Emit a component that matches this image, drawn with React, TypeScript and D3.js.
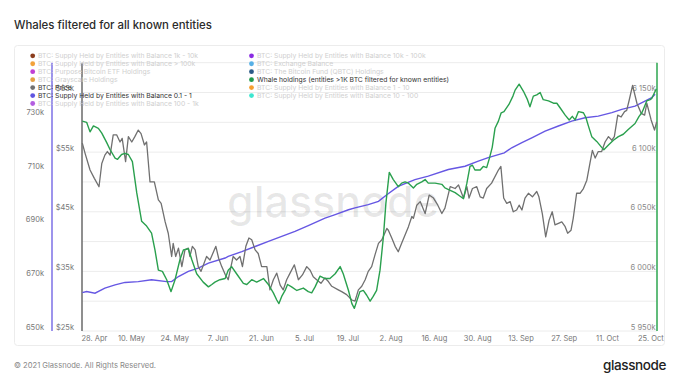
import React from 'react';
import * as d3 from 'd3';

// ---------- data ----------
const START_DATE = '2021-04-24';
const SPAN_DAYS = 186;

const xTickDates = [
  '2021-04-28', '2021-05-10', '2021-05-24', '2021-06-07', '2021-06-21', '2021-07-05', '2021-07-19',
  '2021-08-02', '2021-08-16', '2021-08-30', '2021-09-13', '2021-09-27', '2021-10-11', '2021-10-25',
];

// [days since START_DATE, thousand BTC]
const whaleHoldings: [number, number][] = [
  [0.1, 6126], [1.5, 6125], [2.6, 6117], [3.7, 6122], [5.3, 6120], [6.4, 6116], [8.0, 6108], [9.1, 6102],
  [10.7, 6095], [11.5, 6094], [12.8, 6098], [13.9, 6099], [15.0, 6098], [16.3, 6092], [17.7, 6066], [19.3, 6042],
  [20.9, 6038], [22.5, 6032], [23.6, 6018], [24.7, 6001], [26.0, 6000], [27.4, 5993], [28.8, 5983], [30.1, 5993],
  [31.7, 6010], [32.8, 6018], [34.4, 6019], [35.5, 6010], [37.1, 5998], [39.2, 5991], [40.9, 5987], [42.0, 5989],
  [43.0, 5991], [44.6, 5993], [46.3, 5994], [47.3, 6001], [48.4, 6004], [50.0, 5998], [52.2, 5990], [53.3, 5989],
  [54.9, 5993], [56.5, 5991], [58.7, 5994], [60.3, 5989], [61.9, 5982], [63.0, 5976], [63.7, 5973], [64.6, 5979],
  [65.7, 5984], [66.5, 5989], [67.8, 5987], [69.5, 5984], [71.6, 5986], [73.2, 5983], [74.3, 5982], [75.4, 5987],
  [77.0, 5996], [78.6, 5994], [80.2, 5994], [81.9, 5998], [83.5, 6004], [84.5, 5998], [86.2, 5984], [87.3, 5973],
  [88.1, 5969], [89.9, 5983], [91.0, 5984], [92.1, 5980], [93.2, 5975], [94.2, 5979], [95.3, 5984], [96.4, 6001],
  [97.5, 6029], [98.3, 6057], [99.4, 6083], [100.7, 6077], [101.8, 6073], [102.3, 6071], [103.4, 6074], [104.5, 6075],
  [105.6, 6074], [107.2, 6070], [108.3, 6073], [109.9, 6075], [111.0, 6077], [112.0, 6074], [114.2, 6074], [116.4, 6073],
  [117.4, 6070], [119.1, 6068], [120.7, 6066], [122.3, 6063], [123.4, 6061], [124.5, 6074], [125.5, 6088], [126.3, 6089],
  [127.1, 6085], [128.8, 6085], [129.8, 6088], [130.9, 6087], [131.8, 6095], [132.7, 6104], [133.6, 6120], [134.7, 6126],
  [135.6, 6133], [136.5, 6134], [138.1, 6140], [139.4, 6147], [140.1, 6152], [141.4, 6157], [142.8, 6151], [144.1, 6144],
  [144.9, 6138], [146.0, 6147], [147.1, 6148], [148.2, 6150], [149.2, 6144], [150.9, 6143], [152.5, 6141], [153.6, 6141],
  [154.7, 6137], [156.3, 6131], [157.6, 6127], [158.6, 6130], [159.5, 6127], [160.6, 6134], [162.2, 6133], [163.0, 6129],
  [163.8, 6122], [164.9, 6113], [166.5, 6109], [168.1, 6104], [168.8, 6102], [170.3, 6106], [171.9, 6110], [173.5, 6113],
  [175.1, 6115], [176.7, 6119], [178.9, 6124], [180.2, 6130], [181.1, 6133], [181.6, 6136], [182.7, 6143], [183.8, 6144],
  [184.3, 6145], [185.2, 6150], [185.8, 6153],
];

// [days since START_DATE, thousand USD]
const btcPrice: [number, number][] = [
  [0.1, 56.5], [1.0, 54.8], [2.6, 52.0], [4.0, 50.6], [5.5, 49.2], [6.4, 53.1], [7.4, 54.5], [8.2, 55.1],
  [9.1, 54.5], [10.1, 57.9], [11.2, 57.9], [12.3, 56.7], [13.0, 57.3], [14.1, 53.4], [15.0, 57.6], [16.1, 56.7],
  [17.1, 57.6], [18.2, 58.7], [19.1, 58.1], [20.2, 56.2], [20.9, 56.7], [22.0, 50.0], [23.4, 50.0], [24.7, 47.0],
  [25.6, 46.4], [26.9, 43.3], [27.9, 41.4], [29.0, 37.5], [29.5, 39.7], [30.3, 37.5], [31.2, 38.9], [32.3, 35.8],
  [33.3, 38.6], [34.4, 38.9], [34.9, 37.5], [35.7, 39.2], [36.6, 38.6], [37.6, 35.8], [38.5, 35.0], [40.3, 37.5],
  [41.4, 36.9], [43.3, 39.2], [44.2, 37.2], [45.2, 35.8], [46.3, 34.5], [47.3, 33.6], [48.9, 37.5], [50.0, 36.9],
  [51.1, 37.5], [51.9, 35.8], [53.0, 39.2], [54.0, 40.6], [54.9, 40.3], [56.0, 38.6], [57.0, 38.0], [58.1, 35.8],
  [59.8, 35.8], [60.8, 31.9], [61.9, 33.6], [63.0, 34.7], [64.1, 32.7], [65.1, 31.9], [66.2, 33.6], [67.3, 34.7],
  [68.7, 36.1], [70.0, 33.6], [71.3, 34.4], [72.7, 35.8], [73.8, 35.2], [74.8, 34.1], [75.9, 33.6], [77.3, 33.0],
  [78.6, 33.9], [79.7, 33.3], [80.8, 32.5], [82.9, 31.9], [84.0, 31.6], [85.6, 31.1], [87.3, 30.2], [88.3, 30.0],
  [89.4, 31.9], [90.5, 32.5], [91.6, 33.6], [92.6, 35.0], [93.7, 35.8], [94.8, 37.8], [95.9, 39.7], [97.0, 40.3],
  [98.6, 42.2], [99.1, 41.9], [100.2, 40.6], [101.3, 39.2], [102.3, 38.3], [103.4, 39.7], [104.5, 41.1], [105.6, 42.5],
  [106.7, 44.2], [107.2, 43.9], [108.3, 46.1], [109.4, 46.7], [111.0, 44.7], [112.3, 47.8], [113.7, 47.3], [115.1, 46.1],
  [116.4, 44.7], [117.4, 45.6], [119.1, 49.2], [120.7, 48.9], [121.8, 49.5], [123.4, 47.3], [124.5, 49.2], [125.2, 47.3],
  [126.3, 48.9], [127.7, 49.2], [128.8, 47.5], [129.8, 47.3], [130.9, 48.9], [132.5, 49.8], [134.7, 52.0], [135.5, 52.6],
  [136.4, 47.3], [137.4, 46.4], [138.5, 46.7], [139.5, 45.0], [140.6, 45.3], [141.4, 46.1], [142.3, 45.3], [143.3, 47.3],
  [144.4, 48.1], [145.7, 47.5], [147.1, 48.4], [147.8, 47.5], [148.9, 44.7], [150.0, 40.8], [151.1, 43.6], [152.1, 45.0],
  [153.0, 42.8], [154.3, 43.1], [155.2, 43.3], [156.3, 42.5], [157.1, 41.4], [158.2, 41.9], [158.9, 43.9], [160.0, 48.1],
  [161.1, 48.1], [162.2, 48.9], [163.3, 50.3], [164.3, 53.1], [165.1, 55.3], [166.0, 54.0], [167.0, 55.1], [168.1, 55.1],
  [169.2, 56.7], [170.3, 57.6], [171.4, 57.0], [172.2, 57.6], [173.3, 61.2], [174.4, 60.9], [175.5, 61.8], [176.2, 62.0],
  [177.0, 63.7], [178.1, 66.2], [179.5, 63.2], [180.9, 61.5], [182.0, 61.2], [182.7, 63.2], [184.1, 60.4], [185.2, 58.7],
  [185.9, 60.1],
];

// [days since START_DATE, thousand BTC]
const supply01to1: [number, number][] = [
  [0.1, 664.3], [1.5, 664.7], [4.2, 664.1], [7.4, 666.0], [10.7, 667.2], [13.9, 668.1], [18.2, 668.4], [22.5, 669.1],
  [27.4, 668.4], [29.0, 668.4], [31.2, 670.3], [34.4, 672.2], [37.6, 673.4], [40.9, 675.3], [46.3, 677.2], [47.3, 677.8],
  [51.7, 679.6], [56.0, 681.5], [60.3, 683.4], [64.6, 685.3], [68.9, 687.1], [73.2, 689.3], [78.6, 692.1], [81.9, 693.4],
  [86.2, 695.2], [88.3, 695.9], [92.6, 697.1], [95.9, 698.3], [98.6, 700.8], [102.3, 703.9], [107.7, 706.4], [112.0, 707.7],
  [118.5, 710.2], [123.9, 711.4], [128.2, 713.3], [131.4, 714.6], [136.6, 716.4], [139.0, 718.3], [142.3, 720.2], [145.5, 722.0],
  [149.8, 724.5], [154.1, 726.4], [158.4, 728.2], [162.7, 729.5], [167.0, 730.1], [171.4, 731.4], [174.6, 732.6], [178.9, 733.8],
  [182.1, 735.7], [184.3, 737.0], [185.4, 738.2],
];

const leftTicks = [650, 670, 690, 710, 730];
const priceTicks = [25, 35, 45, 55, 65];
const rightTicks = [5950, 6000, 6050, 6100, 6150];
const priceGrid = [25, 30, 35, 40, 45, 50, 55, 60, 65, 70];

const legendLeft = [
  { name: 'BTC: Supply Held by Entities with Balance 1k - 10k', color: '#8b3c1c', on: false },
  { name: 'BTC: Supply Held by Entities with Balance > 100k', color: '#f2a23a', on: false },
  { name: 'BTC: Purpose Bitcoin ETF Holdings', color: '#c03fd4', on: false },
  { name: 'BTC: Grayscale Holdings', color: '#e3a044', on: false },
  { name: 'BTC: Price', color: '#707070', on: true },
  { name: 'BTC: Supply Held by Entities with Balance 0.1 - 1', color: '#5f55e0', on: true },
  { name: 'BTC: Supply Held by Entities with Balance 100 - 1k', color: '#b35ee0', on: false },
];
const legendRight = [
  { name: 'BTC: Supply Held by Entities with Balance 10k - 100k', color: '#8a2be2', on: false },
  { name: 'BTC: Exchange Balance', color: '#56b0e6', on: false },
  { name: 'BTC: The Bitcoin Fund (QBTC) Holdings', color: '#2b5a86', on: false },
  { name: 'Whale holdings (entities >1K BTC filtered for known entities)', color: '#1f9a4c', on: true },
  { name: 'BTC: Supply Held by Entities with Balance 1 - 10', color: '#f6a030', on: false },
  { name: 'BTC: Supply Held by Entities with Balance 10 - 100', color: '#3de6cf', on: false },
];

// ---------- layout ----------
const W = 680;
const H = 383;
const PL = 82;
const PR = 657;
const PT = 62.7;
const PB = 331;
const FONT = 'Inter, "Noto Sans", sans-serif';

const start = d3.timeParse('%Y-%m-%d')(START_DATE) as Date;
const toDate = (d: number) => new Date(start.getTime() + d * 86400000);

export default function App() {
  const x = d3.scaleTime().domain([start, toDate(SPAN_DAYS)]).range([PL, PR]);
  const yLeft = d3.scaleLinear().domain([650, 750]).range([PB, PT]);
  const yPrice = d3.scaleLinear().domain([25, 70]).range([PB, PT]);
  const yRight = d3.scaleLinear().domain([5950, 6175]).range([PB, PT]);

  const mk = (ys: d3.ScaleLinear<number, number>) =>
    d3.line<[number, number]>().x((d) => x(toDate(d[0]))).y((d) => ys(d[1]));

  const fmtDate = d3.timeFormat('%-d. %b');
  const parse = d3.timeParse('%Y-%m-%d');
  const fmtRight = (v: number) => `${Math.floor(v / 1000)} ${String(v % 1000).padStart(3, '0')}k`;

  const legendRow = (i: number) => 55.8 + i * 7.95;

  return (
    <svg width={W} height={H} style={{ position: 'absolute', left: 0, top: 0, background: '#fff' }} fontFamily={FONT}>
      <rect x={0} y={0} width={W} height={H} fill="#fff" />
      <text x={14} y={29} fontSize={11.4} fill="#2b2b2b" fontWeight={500}>Whales filtered for all known entities</text>
      <rect x={14.5} y={45.5} width={650} height={300} rx={3} fill="none" stroke="#ececec" />

      {/* grid */}
      {priceGrid.map((v) => (
        <line key={'g' + v} x1={PL} x2={PR} y1={yPrice(v)} y2={yPrice(v)} stroke="#ececec" strokeWidth={1} />
      ))}

      {/* watermark */}
      <text x={333} y={217} textAnchor="middle" fontSize={43} fill="#000" fillOpacity={0.09} fontWeight={500}>glassnode</text>

      {/* axis lines */}
      <line x1={52} x2={52} y1={PT} y2={PB} stroke="#7d70e6" strokeWidth={1.5} />
      <line x1={PL} x2={PL} y1={PT} y2={PB} stroke="#6a6a6a" strokeWidth={1.5} />
      <line x1={PR} x2={PR} y1={PT} y2={PB} stroke="#2da64f" strokeWidth={1.5} />

      {/* axis labels */}
      {leftTicks.map((v) => (
        <text key={'l' + v} x={44} y={yLeft(v) - 1.5} textAnchor="end" fontSize={7.5} fill="#777">{v}k</text>
      ))}
      {priceTicks.map((v) => (
        <text key={'p' + v} x={74} y={yPrice(v) - 1.5} textAnchor="end" fontSize={7.5} fill="#777">${v}k</text>
      ))}
      {rightTicks.map((v) => (
        <text key={'r' + v} x={655.5} y={yRight(v) - 1.5} textAnchor="end" fontSize={7.5} fill="#888">{fmtRight(v)}</text>
      ))}
      {xTickDates.map((s) => {
        const d = parse(s) as Date;
        return (
          <text key={s} x={x(d)} y={341} textAnchor="middle" fontSize={7.5} fill="#777">{fmtDate(d)}</text>
        );
      })}

      {/* series */}
      <path d={mk(yLeft)(supply01to1) || ''} fill="none" stroke="#6657e3" strokeWidth={1.4} />
      <path d={mk(yPrice)(btcPrice) || ''} fill="none" stroke="#707070" strokeWidth={1.3} strokeLinejoin="round" />
      <path d={mk(yRight)(whaleHoldings) || ''} fill="none" stroke="#2aa04e" strokeWidth={1.4} strokeLinejoin="round" />

      {/* legend */}
      {legendLeft.map((it, i) => (
        <g key={'ll' + i}>
          <circle cx={32.7} cy={legendRow(i)} r={2.4} fill={it.color} />
          <text x={38} y={legendRow(i) + 2.4} fontSize={6.8} fill={it.on ? '#333' : '#cfcfcf'}>{it.name}</text>
        </g>
      ))}
      {legendRight.map((it, i) => (
        <g key={'lr' + i}>
          <circle cx={251.5} cy={legendRow(i)} r={2.4} fill={it.color} />
          <text x={257} y={legendRow(i) + 2.4} fontSize={6.8} fill={it.on ? '#333' : '#cfcfcf'}>{it.name}</text>
        </g>
      ))}

      {/* footer */}
      <text x={14} y={368} fontSize={7.6} fill="#888">© 2021 Glassnode. All Rights Reserved.</text>
      <text x={666} y={370} textAnchor="end" fontSize={13.5} letterSpacing={-0.4} fill="#222" fontWeight={500}>glassnode</text>
    </svg>
  );
}
